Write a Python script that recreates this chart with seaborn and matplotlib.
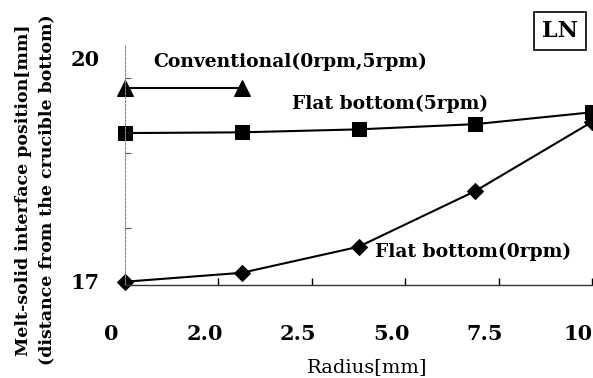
import matplotlib
matplotlib.use("Agg")
import matplotlib.pyplot as plt
import matplotlib.transforms as mtransforms
import seaborn as sns
import numpy as np

# ---- data ----
radius = [0, 2.5, 5.0, 7.5, 10]
conv_radius = [0, 2.5]
conv_pos = [19.60, 19.60]
flat5_pos = [18.99, 19.00, 19.04, 19.11, 19.27]
flat0_pos = [16.99, 17.11, 17.46, 18.21, 19.14]

x_ticks = [0, 2, 4, 6, 8, 10]
x_tick_labels = ["0", "2.0", "2.5", "5.0", "7.5", "10"]
y_ticks = [17, 20]
y_tick_labels = ["17", "20"]
y_minor = [17.71, 18.72, 19.73]

sns.set_theme(style="white")
plt.rcParams["font.family"] = ["DejaVu Serif", "DejaVu Sans"]
plt.rcParams["text.color"] = "black"
plt.rcParams["axes.labelcolor"] = "black"
plt.rcParams["xtick.color"] = "black"
plt.rcParams["ytick.color"] = "black"

W, H = 593, 378
fig = plt.figure(figsize=(W / 100, H / 100), dpi=100)
ax = fig.add_axes([125 / W, 93 / H, 467 / W, 240 / H])

sns.lineplot(x=conv_radius, y=conv_pos, marker="^", markersize=11, color="black",
             linewidth=1.5, markeredgecolor="black", ax=ax, clip_on=False)
sns.lineplot(x=radius, y=flat5_pos, marker="s", markersize=9.5, color="black",
             linewidth=1.5, markeredgecolor="black", ax=ax, clip_on=False)
sns.lineplot(x=radius, y=flat0_pos, marker="D", markersize=8.5, color="black",
             linewidth=1.5, markeredgecolor="black", ax=ax, clip_on=False)

ax.set_xlim(0, 10)
ax.set_ylim(16.946, 20.175)

ax.set_xticks(x_ticks, x_tick_labels)
ax.set_yticks(y_ticks, y_tick_labels)
ax.set_yticks(y_minor, minor=True)

ax.tick_params(axis="x", direction="in", length=5, width=1, pad=28,
               labelsize=15, colors="black", bottom=True)
ax.tick_params(axis="y", which="major", length=0, pad=18, labelsize=15,
               left=True, labelcolor="black")
ax.tick_params(axis="y", which="minor", direction="in", length=4, width=0.8,
               color="#555555", left=True)
for lab in ax.get_xticklabels() + ax.get_yticklabels():
    lab.set_fontweight("bold")
    lab.set_color("black")

offset = mtransforms.ScaledTranslation(-14 / 100, 0, fig.dpi_scale_trans)
for lab in ax.get_xticklabels():
    lab.set_transform(lab.get_transform() + offset)

for s in ["top", "right"]:
    ax.spines[s].set_visible(False)
ax.spines["left"].set_linestyle((0, (2, 1.5)))
ax.spines["left"].set_color("#888888")
ax.spines["left"].set_linewidth(0.8)
ax.spines["bottom"].set_color("#333333")
ax.spines["bottom"].set_linewidth(1.0)
ax.set_xlabel("")
ax.set_ylabel("")


def fx(px):
    return px / W


def fy(py):
    return 1 - py / H


fig.text(fx(153), fy(62), "Conventional(0rpm,5rpm)", ha="left", va="center",
         fontsize=13.5, fontweight="bold", color="black")
fig.text(fx(292), fy(104), "Flat bottom(5rpm)", ha="left", va="center",
         fontsize=13.5, fontweight="bold", color="black")
fig.text(fx(375), fy(252), "Flat bottom(0rpm)", ha="left", va="center",
         fontsize=13.5, fontweight="bold", color="black")
fig.text(fx(560), fy(31), "LN", ha="center", va="center", fontsize=16,
         fontweight="bold", color="black",
         bbox=dict(boxstyle="square,pad=0.35", fc="white", ec="black", lw=1.2))

fig.text(fx(35), fy(190),
         "Melt-solid interface position[mm]\n(distance from the crucible bottom)",
         rotation=90, ha="center", va="center", multialignment="center",
         linespacing=1.5, fontsize=12.5, fontweight="bold", color="black")
fig.text(fx(367), fy(367), "Radius[mm]", ha="center", va="center", fontsize=14,
         color="black")

fig.savefig("out.png", dpi=100, facecolor="white")
